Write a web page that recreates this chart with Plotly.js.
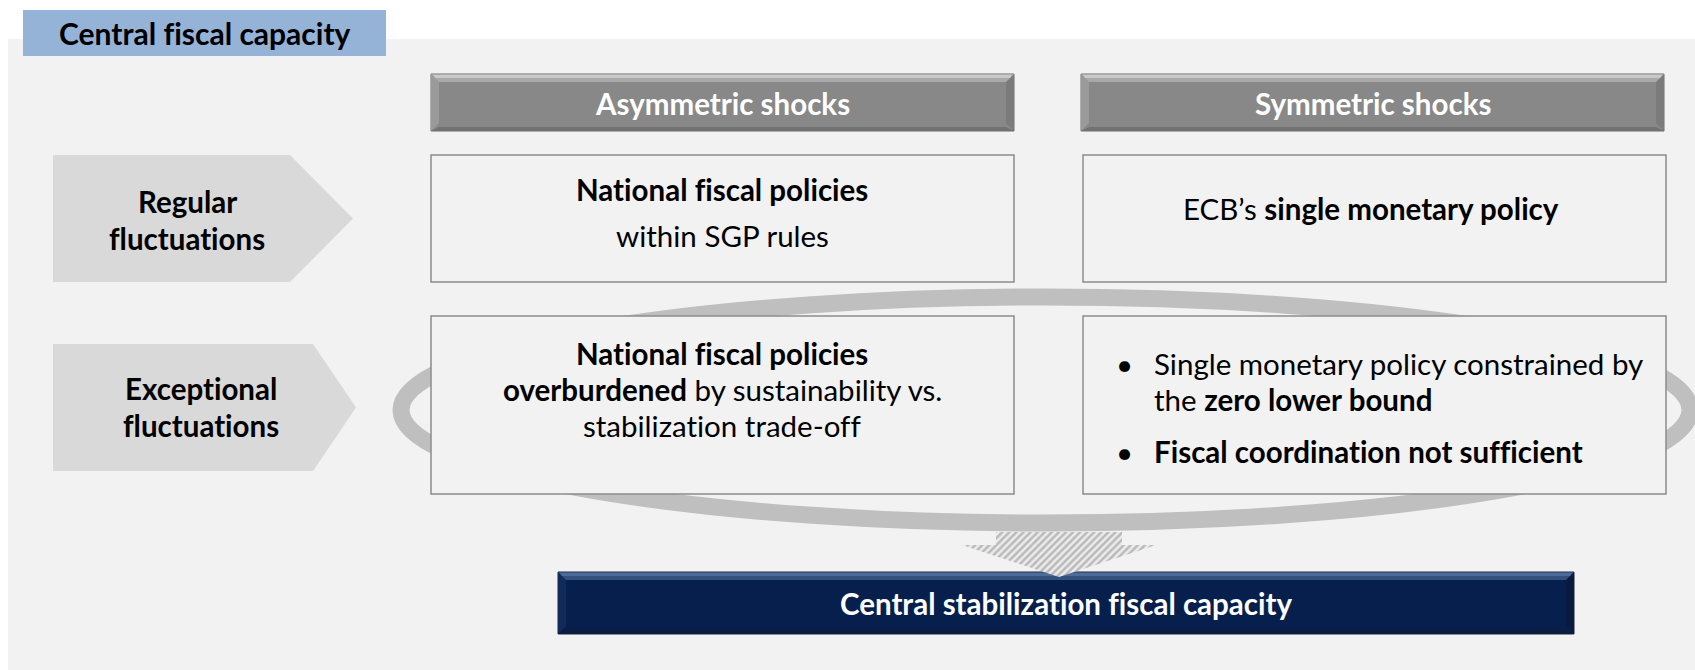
<!DOCTYPE html>
<html>
<head>
<meta charset="utf-8">
<script src="https://cdn.plot.ly/plotly-3.0.1.min.js"></script>
<style>
  html, body { margin: 0; padding: 0; background: #ffffff; }
  #chart { width: 1695px; height: 670px; }
  text { font-variant-ligatures: none; font-feature-settings: "liga" 0, "clig" 0; }
</style>
</head>
<body>
<div id="chart"></div>
<script>
// ---------------- DATA (texts of the diagram) ----------------
const panelTitle = 'Central fiscal capacity';
const columnHeaders = ['Asymmetric shocks', 'Symmetric shocks'];
const rowLabels = [
  ['Regular', 'fluctuations'],
  ['Exceptional', 'fluctuations']
];
const cellRegularAsymmetric = ['<b>National fiscal policies</b>', 'within SGP rules'];
const cellRegularSymmetric = ['ECB\u2019s <b>single monetary policy</b>'];
const cellExceptionalAsymmetric = [
  '<b>National fiscal policies</b>',
  '<b>overburdened</b> by sustainability vs.',
  'stabilization trade-off'
];
const cellExceptionalSymmetricBullets = [
  ['Single monetary policy constrained by', 'the <b>zero lower bound</b>'],
  ['<b>Fiscal coordination not sufficient</b>']
];
const outcomeLabel = 'Central stabilization fiscal capacity';

// ---------------- GEOMETRY & STYLE (pixel units) ----------------
const W = 1695, H = 670;
const FONT = 'Lato, "Open Sans", sans-serif';
const geom = {
  panel: [8, 39, 1700, 675],
  tab: [23, 10, 386, 56],
  headers: [[431, 74, 1014, 131], [1081, 74, 1664, 131]],
  rowArrows: [
    {x0: 53, body: 290, tip: 353, y0: 155, y1: 282},
    {x0: 53, body: 313, tip: 356, y0: 344, y1: 471}
  ],
  cells: [
    [[431, 155, 1014, 282], [1083, 155, 1666, 282]],
    [[431, 316, 1014, 494], [1083, 316, 1666, 494]]
  ],
  ring: [401, 297, 1690, 523],
  outcome: [558, 572, 1574, 634],
  downArrow: {cx: 1059, top: 532, neck: 545, tip: 577, stemHalf: 63, headHalf: 97}
};

const shapes = [];
function rect(b, fill, line, lw, layer) {
  shapes.push({type: 'rect', xref: 'x', yref: 'y', x0: b[0], y0: b[1], x1: b[2], y1: b[3],
    fillcolor: fill, line: {color: line || 'rgba(0,0,0,0)', width: lw || 0}, layer: layer || 'below'});
}
function poly(pts, fill, line, lw) {
  const d = 'M' + pts.map(p => p[0] + ',' + p[1]).join(' L') + ' Z';
  shapes.push({type: 'path', xref: 'x', yref: 'y', path: d, fillcolor: fill,
    line: {color: line || 'rgba(0,0,0,0)', width: lw || 0}, layer: 'below'});
}

// background panel and tab
rect(geom.panel, '#f2f2f2');
rect(geom.tab, '#95b3d7');

// row arrows (pentagons)
geom.rowArrows.forEach(a => {
  poly([[a.x0, a.y0], [a.body, a.y0], [a.tip, (a.y0 + a.y1) / 2], [a.body, a.y1], [a.x0, a.y1]], '#d9d9d9');
});

// ring
shapes.push({type: 'circle', xref: 'x', yref: 'y', x0: geom.ring[0], y0: geom.ring[1],
  x1: geom.ring[2], y1: geom.ring[3], line: {color: '#bfbfbf', width: 17},
  fillcolor: 'rgba(0,0,0,0)', layer: 'below'});

// cells
geom.cells.forEach(row => row.forEach(b => rect(b, '#f2f2f2', '#8c8c8c', 1.5)));

// bevelled header bars
function bevelBar(b, base, topC, topC2, botC, sideL, sideR, edge) {
  const [x0, y0, x1, y1] = b;
  const bv = 8;
  rect(b, base, edge, 1);
  poly([[x0, y0], [x0 + bv, y0 + bv], [x0 + bv, y1 - bv], [x0, y1]], sideL);
  poly([[x1, y0], [x1 - bv, y0 + bv], [x1 - bv, y1 - bv], [x1, y1]], sideR);
  poly([[x0, y0], [x1, y0], [x1 - bv, y0 + bv], [x0 + bv, y0 + bv]], topC);
  poly([[x0 + 2, y0 + 1], [x1 - 2, y0 + 1], [x1 - 4, y0 + 4], [x0 + 4, y0 + 4]], topC2);
  poly([[x0, y1], [x1, y1], [x1 - bv, y1 - 4], [x0 + bv, y1 - 4]], botC);
}
geom.headers.forEach(b => bevelBar(b, '#888888', '#a9a9a9', '#c9c9c9', '#727272', '#9a9a9a', '#7b7b7b', '#6c6c6c'));
bevelBar(geom.outcome, '#061f4d', '#33507f', '#4d6a98', '#0f1d3c', '#112a5a', '#0a1a3e', '#1c2847');

// ---------------- ANNOTATIONS ----------------
const annotations = [];
function txt(text, x, y, size, color, opts) {
  annotations.push(Object.assign({
    xref: 'x', yref: 'y', x: x, y: y, text: text, showarrow: false,
    xanchor: 'center', yanchor: 'middle',
    font: {family: FONT, size: size, color: color}
  }, opts || {}));
}
const BODY = 29.5;

txt('<b>' + panelTitle + '</b>', (geom.tab[0] + geom.tab[2]) / 2, 33, 30, '#000000');
columnHeaders.forEach((h, i) => {
  const b = geom.headers[i];
  txt('<b>' + h + '</b>', (b[0] + b[2]) / 2, 103, 29.5, '#ffffff');
});
const rowLabelX = [187, 201];
const rowLabelY = [[201, 238], [388, 425]];
rowLabels.forEach((lines, r) => lines.forEach((l, k) => txt('<b>' + l + '</b>', rowLabelX[r], rowLabelY[r][k], BODY, '#000000')));

// regular / asymmetric
[189, 235].forEach((y, k) => txt(cellRegularAsymmetric[k], 722, y, BODY, '#000000'));
// regular / symmetric
txt(cellRegularSymmetric[0], 1371, 208, BODY, '#000000');
// exceptional / asymmetric
[353, 389, 425].forEach((y, k) => txt(cellExceptionalAsymmetric[k], 722, y, BODY, '#000000'));
// exceptional / symmetric bullets
const bulletY = [[363, 399], [451]];
cellExceptionalSymmetricBullets.forEach((lines, i) => {
  txt('\u2022', 1124, bulletY[i][0], BODY, '#000000');
  lines.forEach((l, k) => txt(l, 1152, bulletY[i][k], BODY, '#000000', {xanchor: 'left'}));
});
// outcome
txt('<b>' + outcomeLabel + '</b>', (geom.outcome[0] + geom.outcome[2]) / 2, 603, 29.5, '#ffffff');

// ---------------- DOWN ARROW (hatched) ----------------
const a = geom.downArrow;
const arrowX = [a.cx - a.stemHalf, a.cx - a.stemHalf, a.cx - a.headHalf, a.cx, a.cx + a.headHalf, a.cx + a.stemHalf, a.cx + a.stemHalf, a.cx - a.stemHalf];
const arrowY = [a.top, a.neck, a.neck, a.tip, a.neck, a.neck, a.top, a.top];
const traces = [{
  type: 'scatter', mode: 'lines', x: arrowX, y: arrowY,
  fill: 'toself', fillcolor: '#e4e4e4',
  fillpattern: {shape: '/', fgcolor: '#bababa', bgcolor: '#ececec', size: 5, solidity: 0.5},
  line: {width: 0, color: 'rgba(0,0,0,0)'}, hoverinfo: 'skip', showlegend: false
}];

const layout = {
  width: W, height: H,
  margin: {l: 0, r: 0, t: 0, b: 0, pad: 0},
  paper_bgcolor: '#ffffff', plot_bgcolor: '#ffffff',
  xaxis: {range: [0, W], visible: false, fixedrange: true},
  yaxis: {range: [H, 0], visible: false, fixedrange: true},
  showlegend: false,
  shapes: shapes,
  annotations: annotations
};
Plotly.newPlot('chart', traces, layout, {displayModeBar: false, staticPlot: true});
</script>
</body>
</html>
